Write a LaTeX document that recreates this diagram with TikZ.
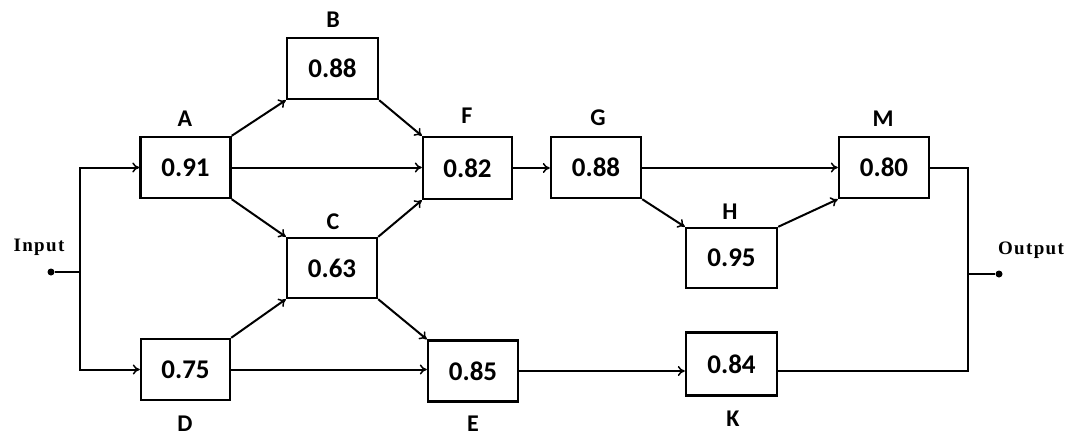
\documentclass[tikz,border=0pt]{standalone}
\usepackage{fontspec}
\setmainfont{Carlito}
\newfontfamily\ioserif[LetterSpace=7]{Liberation Serif}
\usetikzlibrary{arrows.meta}
\begin{document}
\begin{tikzpicture}[x=1pt,y=-1pt,
  blk/.style={draw,line width=2.4pt,minimum width=90pt,minimum height=61pt,inner sep=0pt,font=\fontsize{27}{29}\selectfont\bfseries},
  lbl/.style={font=\fontsize{24}{26}\selectfont\bfseries,inner sep=0pt},
  io/.style={font=\ioserif\fontsize{19}{21}\selectfont\bfseries,inner sep=0pt},
  wire/.style={line width=2pt},
  arr/.style={wire,-{To[length=7pt,width=10pt,line width=1.5pt]}},
  dot/.style={circle,fill=black,inner sep=0pt,minimum size=7pt}]
\useasboundingbox (0,0) rectangle (1075,437);
% blocks
\node[blk] (A) at (185.5,167.5) {0.91};
\node[blk,minimum width=91pt] (B) at (332.5,68.5) {0.88};
\node[blk,minimum width=89pt,minimum height=62pt] (F) at (467.5,168) {0.82};
\node[blk] (G) at (596,167.5) {0.88};
\node[blk] (M) at (884,167.5) {0.80};
\node[blk,minimum height=60pt] (C) at (332,268) {0.63};
\node[blk,minimum width=91pt,minimum height=60pt] (H) at (731.5,258) {0.95};
\node[blk,minimum width=89pt] (D) at (185.5,369.5) {0.75};
\node[blk] (E) at (473,371) {0.85};
\node[blk,minimum width=91pt,minimum height=63pt] (K) at (731.5,364) {0.84};
% letters
\node[lbl] (lA) at (185,119) {A};
\node[lbl] (lB) at (333,20) {B};
\node[lbl] (lF) at (467,116) {F};
\node[lbl] (lG) at (598,118) {G};
\node[lbl] (lM) at (883,119) {M};
\node[lbl] (lC) at (333,222) {C};
\node[lbl] (lH) at (730,212) {H};
\node[lbl] (lD) at (185,424) {D};
\node[lbl] (lE) at (473,424) {E};
\node[lbl] (lK) at (733,419) {K};
% input / output
\node[dot] (in) at (51,272) {};
\node[io] (lin) at (39,247) {Input};
\node[dot] (out) at (999,274) {};
\node[io] (lout) at (1031,250) {Output};
\coordinate (inb) at (80,272);
\coordinate (outb) at (968,274);
% input bus
\draw[wire] (in) -- (inb);
\draw[arr] (inb) |- (A.west);
\draw[arr] (inb) |- (D.west);
% stage 1
\draw[arr] (A.north east) -- (B.south west);
\draw[arr] (A.east) -- (A.east -| F.west);
\draw[arr] (A.south east) -- (C.north west);
\draw[arr] (D.north east) -- (C.south west);
\draw[arr] (D.east) -- (D.east -| E.west);
% stage 2
\draw[arr] (B.south east) -- (F.north west);
\draw[arr] (C.north east) -- (F.south west);
\draw[arr] (C.south east) -- (E.north west);
\draw[arr] (F.east) -- (F.east -| G.west);
\draw[arr] (G.east) -- (G.east -| M.west);
\draw[arr] (G.south east) -- (H.north west);
\draw[arr] (H.north east) -- (M.south west);
\draw[arr] (E.east) -- (E.east -| K.west);
% output bus
\draw[wire] (M.east) -| (outb);
\draw[wire] (E.east -| K.east) -| (outb);
\draw[wire] (outb) -- (out);
\end{tikzpicture}
\end{document}
